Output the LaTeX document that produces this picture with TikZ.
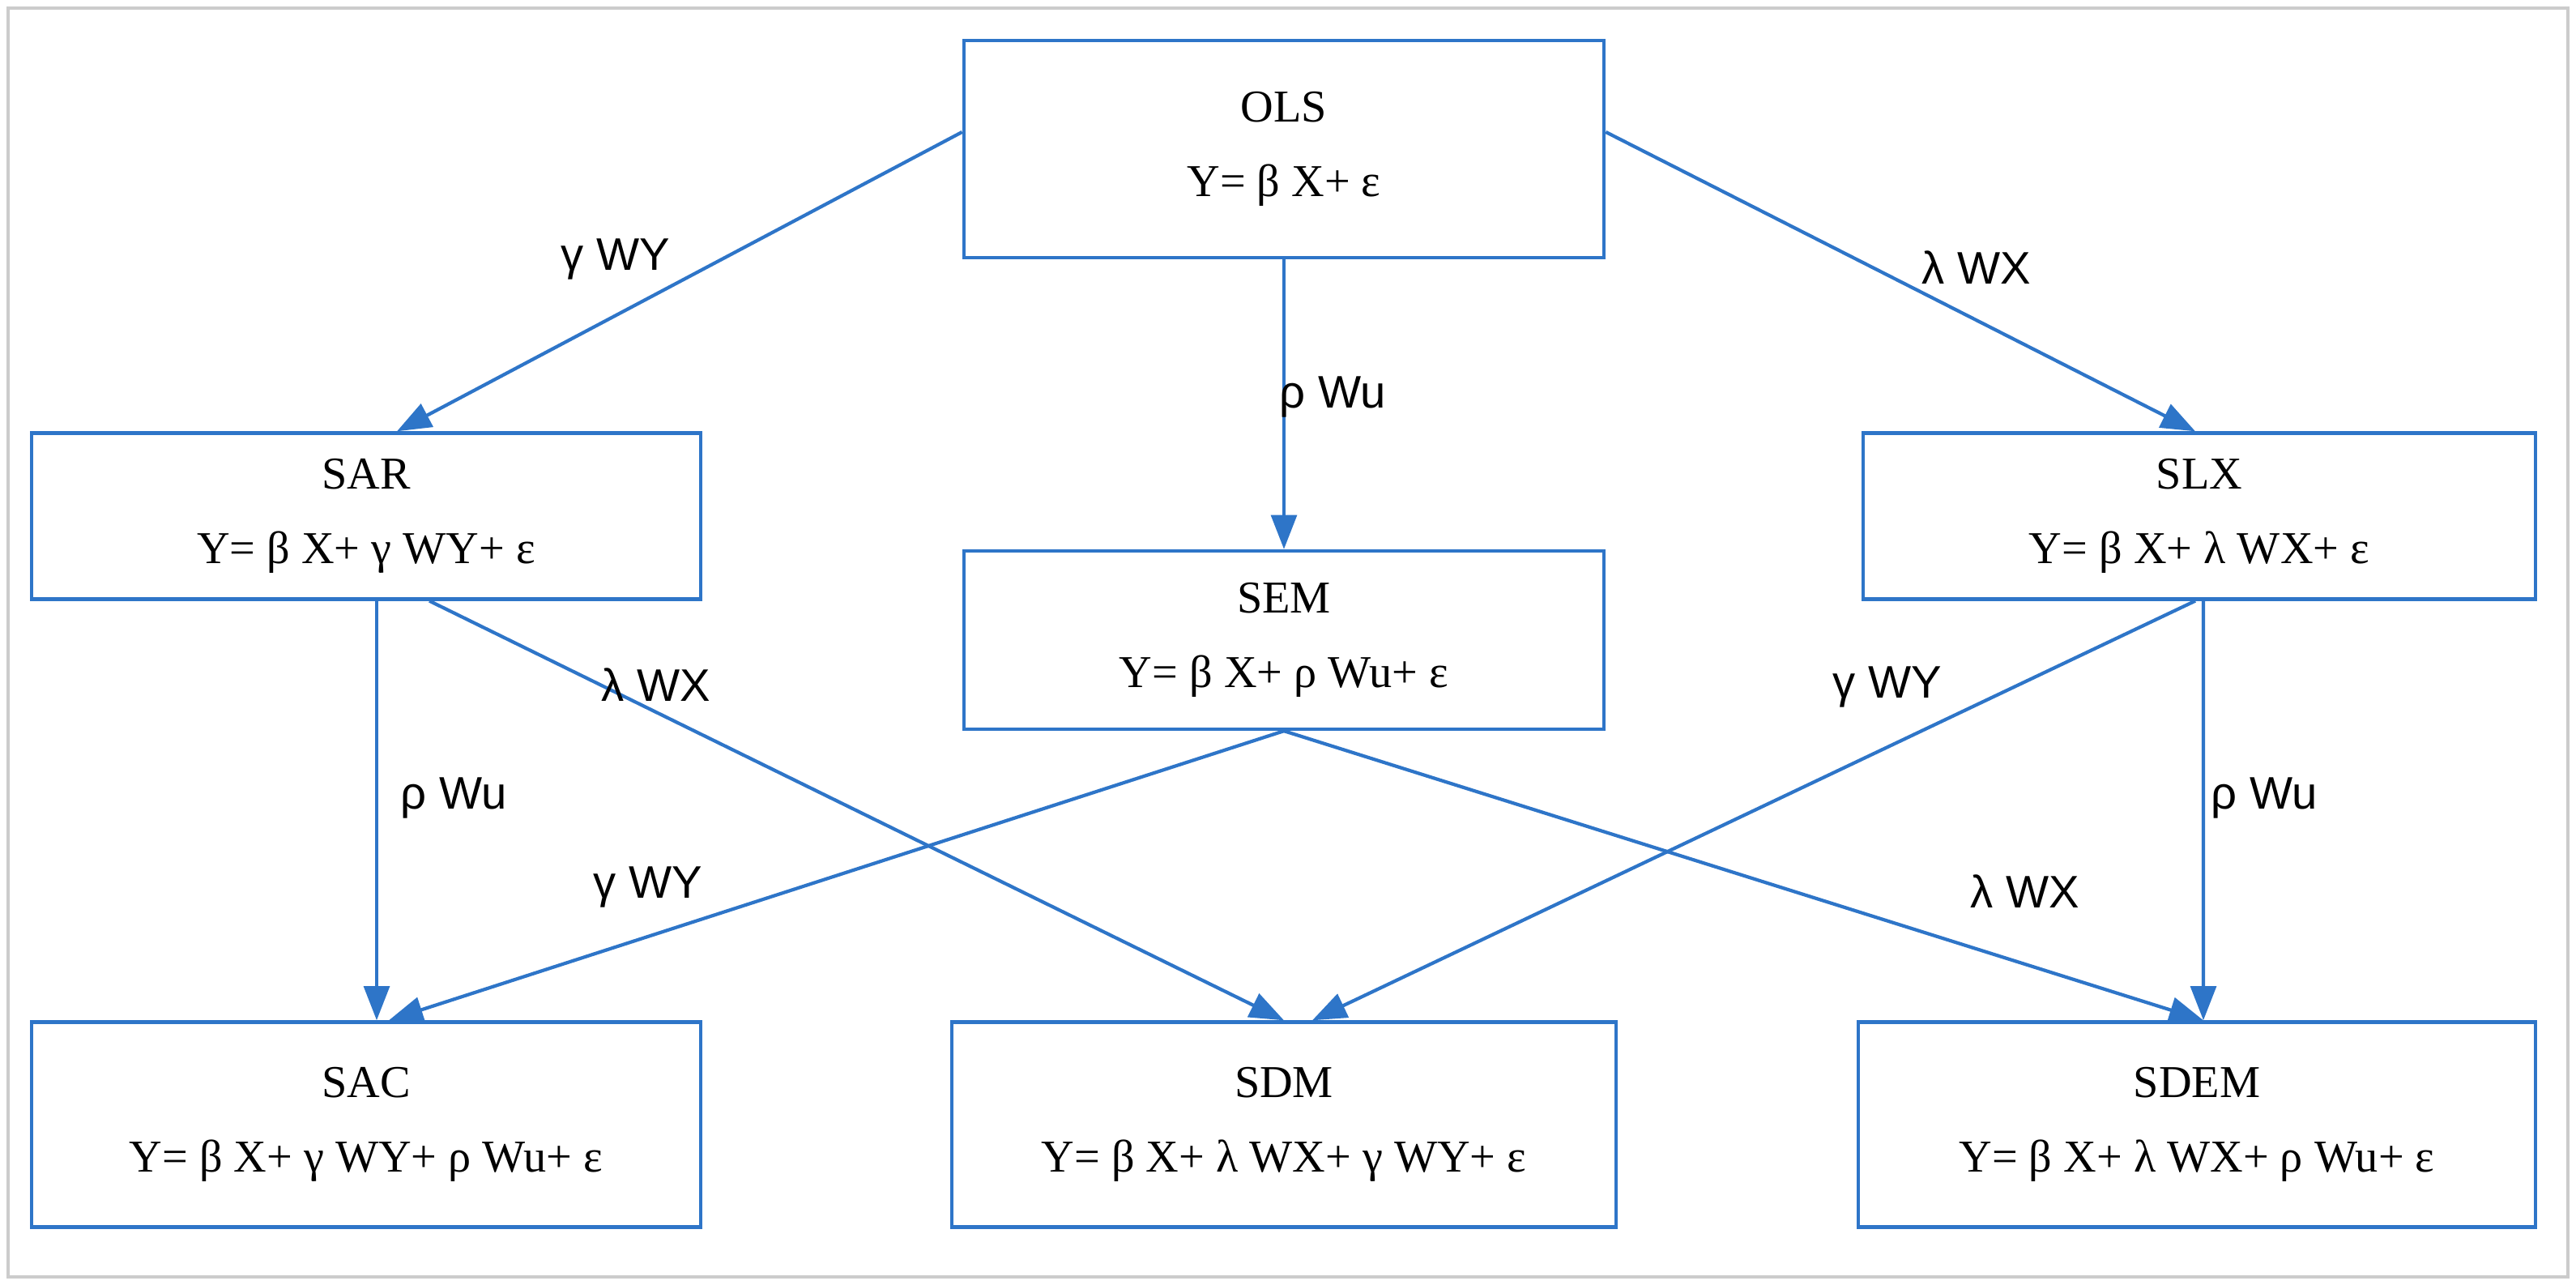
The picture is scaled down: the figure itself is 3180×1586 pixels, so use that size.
\documentclass[tikz,border=0pt]{standalone}
\usepackage{fontspec}
\setmainfont{Liberation Serif}
\newfontfamily\lblfont{Liberation Sans}
\usetikzlibrary{arrows.meta}
\definecolor{ab}{RGB}{46,117,200}
\begin{document}
\begin{tikzpicture}[x=0.01cm,y=-0.01cm,
 box/.style={draw=ab,line width=1.2pt,fill=white,align=center,font=\fontsize{16}{26}\selectfont,inner sep=0pt},
 arr/.style={draw=ab,line width=1.2pt,-{Triangle[length=12pt,width=9pt]}},
 lbl/.style={font=\lblfont\fontsize{16}{19}\selectfont}]
\useasboundingbox (0,0) rectangle (3180,1586);
\draw[gray!40,line width=1pt] (10,10) rectangle (3170,1576);
\node[box,minimum width=7.9cm,minimum height=2.68cm] (ols) at (1585,184) {OLS\\Y= β X+ ε};
\node[box,minimum width=8.25cm,minimum height=2.05cm] (sar) at (452,637) {SAR\\Y= β X+ γ WY+ ε};
\node[box,minimum width=8.3cm,minimum height=2.05cm] (slx) at (2715,637) {SLX\\Y= β X+ λ WX+ ε};
\node[box,minimum width=7.9cm,minimum height=2.2cm] (sem) at (1585,790) {SEM\\Y= β X+ ρ Wu+ ε};
\node[box,minimum width=8.25cm,minimum height=2.53cm] (sac) at (452,1388) {SAC\\Y= β X+ γ WY+ ρ Wu+ ε};
\node[box,minimum width=8.2cm,minimum height=2.53cm] (sdm) at (1585,1388) {SDM\\Y= β X+ λ WX+ γ WY+ ε};
\node[box,minimum width=8.35cm,minimum height=2.53cm] (sdem) at (2712,1388) {SDEM\\Y= β X+ λ WX+ ρ Wu+ ε};
\draw[arr] ([yshift=0.21cm]ols.west) -- ([xshift=0.38cm]sar.north);
\draw[arr] (ols.south) -- (sem.north);
\draw[arr] ([yshift=0.21cm]ols.east) -- ([xshift=-0.05cm]slx.north);
\draw[arr] ([xshift=0.13cm]sar.south) -- ([xshift=0.13cm]sac.north);
\draw[arr] ([xshift=0.78cm]sar.south) -- (sdm.north);
\draw[arr] (sem.south) -- ([xshift=0.28cm]sac.north);
\draw[arr] (sem.south) -- ([xshift=0.08cm]sdem.north);
\draw[arr] ([xshift=-0.05cm]slx.south) -- ([xshift=0.35cm]sdm.north);
\draw[arr] ([xshift=0.05cm]slx.south) -- ([xshift=0.08cm]sdem.north);
\node[lbl] (l1) at (760,320) {γ WY};
\node[lbl] (l2) at (1645,490) {ρ Wu};
\node[lbl] (l3) at (2440,330) {λ WX};
\node[lbl] (l4) at (560,985) {ρ Wu};
\node[lbl] (l5) at (810,845) {λ WX};
\node[lbl] (l6) at (800,1095) {γ WY};
\node[lbl] (l7) at (2330,848) {γ WY};
\node[lbl] (l8) at (2500,1100) {λ WX};
\node[lbl] (l9) at (2795,985) {ρ Wu};
\end{tikzpicture}
\end{document}
